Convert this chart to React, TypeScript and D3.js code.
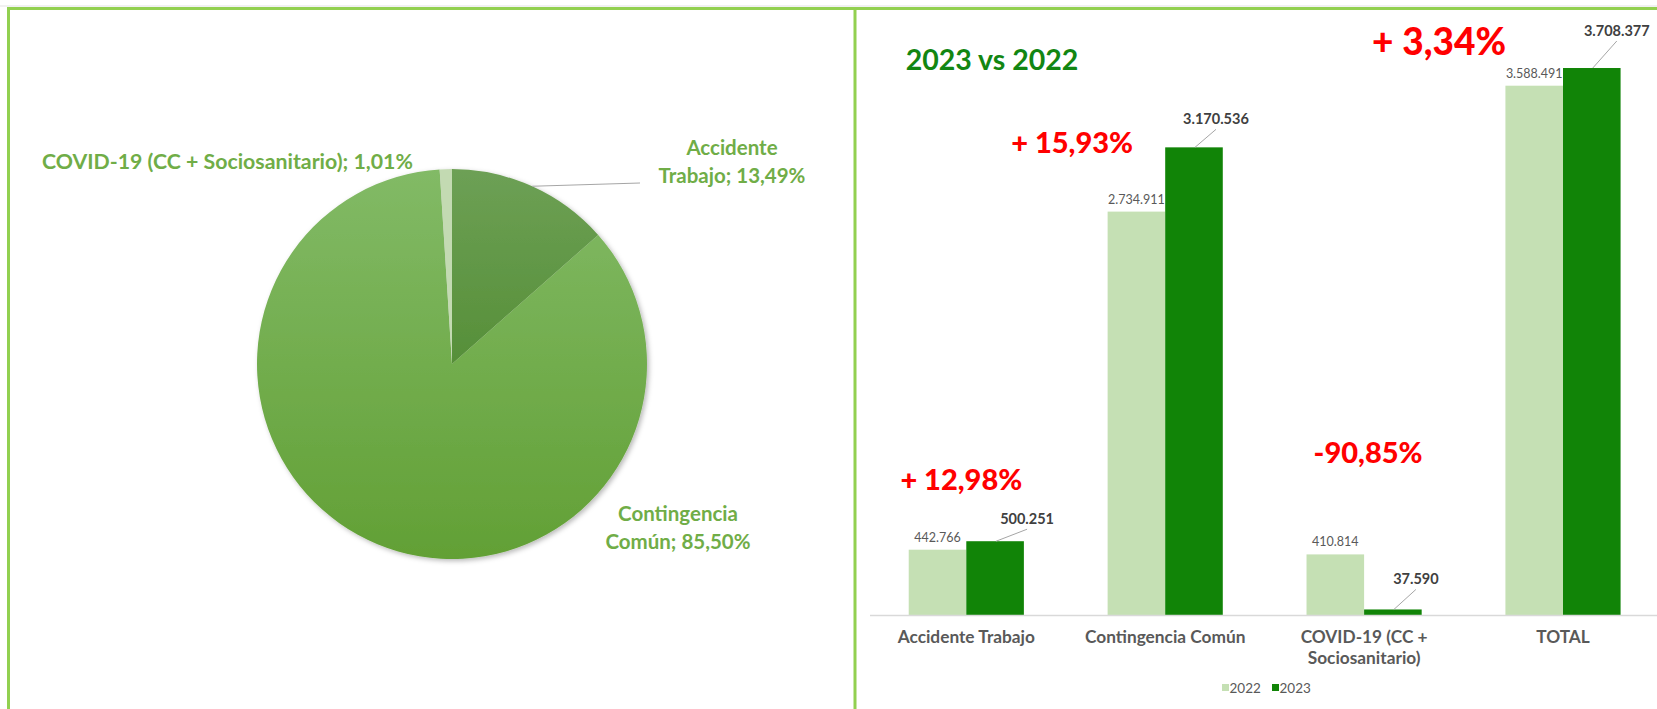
import React from "react";
import * as d3 from "d3";

// pie data
const pieCategories = ["Accidente Trabajo", "Contingencia Común", "COVID-19 (CC + Sociosanitario)"];
const pieShares = [13.49, 85.5, 1.01];

// bar data
const categories = ["Accidente Trabajo", "Contingencia Común", "COVID-19 (CC + Sociosanitario)", "TOTAL"];
const categoryLines = [["Accidente Trabajo"], ["Contingencia Común"], ["COVID-19 (CC +", "Sociosanitario)"], ["TOTAL"]];
const seriesNames = ["2022", "2023"];
const values2022 = [442766, 2734911, 410814, 3588491];
const values2023 = [500251, 3170536, 37590, 3708377];
const changeLabels = ["+ 12,98%", "+ 15,93%", "-90,85%", "+ 3,34%"];
const yMax = 4000000;

const W = 1657;
const H = 709;
const FONT = "Lato, 'Open Sans', sans-serif";
const BORDER = "#92D050";
const LABEL_GREEN = "#70AD47";
const C2022 = "#C5E0B4";
const C2023 = "#118407";

const es = d3.formatLocale({ decimal: ",", thousands: ".", grouping: [3], currency: ["", " €"] });
const fmtNum = es.format(",d");
const fmtPct = es.format(".2f");

// layout of the pie labels (text anchor point + baselines)
const pieLabelLayout = [
  { x: 732, anchor: "middle", lines: ["Accidente", "Trabajo; "], y: [154.5, 182.5], size: 20.5 },
  { x: 678, anchor: "middle", lines: ["Contingencia", "Común; "], y: [521, 548.5], size: 20.5 },
  { x: 42, anchor: "start", lines: ["COVID-19 (CC + Sociosanitario); "], y: [169], size: 21.3 },
];

// offsets of 2023 labels from the top-centre of their bar
const label23Offset = [
  { dx: 32, dy: -22 },
  { dx: 22, dy: -28 },
  { dx: 23, dy: -30 },
  { dx: 25, dy: -37 },
];
// red change annotations: dx from category centre, baseline y, size
const changeLayout = [
  { dx: -5, y: 490, size: 29 },
  { dx: -93, y: 153, size: 29 },
  { dx: 4, y: 463, size: 29 },
  { dx: -124, y: 55, size: 37 },
];

const PieChart = () => {
  const cx = 452;
  const cy = 364;
  const r = 195;
  const pie = d3.pie<number>().sort(null).value((d) => d)(pieShares);
  const arc = d3.arc<d3.PieArcDatum<number>>().innerRadius(0).outerRadius(r);
  const fills = ["url(#gAcc)", "url(#gCont)", "#C3DAB2"];

  const acc = pie[0];
  const mid = (acc.startAngle + acc.endAngle) / 2;
  const rim = [cx + r * Math.sin(mid), cy - r * Math.cos(mid)];

  return (
    <g>
      <defs>
        <linearGradient id="gAcc" gradientUnits="userSpaceOnUse" x1="0" y1={-r} x2="0" y2={r}>
          <stop offset="0" stopColor="#6DA055" />
          <stop offset="1" stopColor="#3F7E1C" />
        </linearGradient>
        <linearGradient id="gCont" gradientUnits="userSpaceOnUse" x1="0" y1={-r} x2="0" y2={r}>
          <stop offset="0" stopColor="#82BA66" />
          <stop offset="1" stopColor="#62A035" />
        </linearGradient>
        <filter id="pieShadow" x="-20%" y="-20%" width="140%" height="140%">
          <feDropShadow dx="2" dy="2" stdDeviation="2.5" floodColor="#000" floodOpacity="0.28" />
        </filter>
      </defs>
      <g transform={`translate(${cx},${cy})`} filter="url(#pieShadow)">
        {pie.map((d, i) => (
          <path key={i} d={arc(d) || ""} fill={fills[i]} />
        ))}
      </g>
      <line x1={rim[0]} y1={rim[1]} x2={640} y2={183} stroke="#A6A6A6" strokeWidth={1.2} />
      {pieLabelLayout.map((l, i) => (
        <text key={i} fontFamily={FONT} fontWeight="bold" fontSize={l.size} fill={LABEL_GREEN} textAnchor={l.anchor}>
          {l.lines.map((t, j) => (
            <tspan key={j} x={l.x} y={l.y[j]}>
              {j === l.lines.length - 1 ? `${t}${fmtPct(pieShares[i])}%` : t}
            </tspan>
          ))}
        </text>
      ))}
    </g>
  );
};

const BarChart = () => {
  const baseY = 615;
  const x0 = d3
    .scaleBand<string>()
    .domain(categories)
    .range([866.85, 1662.45])
    .paddingInner(0.421)
    .paddingOuter(0.2105);
  const x1 = d3.scaleBand<string>().domain(seriesNames).range([0, x0.bandwidth()]);
  const y = d3.scaleLinear().domain([0, yMax]).range([baseY, 25]);
  const centre = (c: string) => (x0(c) as number) + x0.bandwidth() / 2;

  return (
    <g>
      <text x={992} y={69.5} textAnchor="middle" fontFamily={FONT} fontWeight="bold" fontSize={28.5} fill="#128612">
        2023 vs 2022
      </text>

      {categories.map((c, i) => {
        const bx22 = (x0(c) as number) + (x1("2022") as number);
        const bx23 = (x0(c) as number) + (x1("2023") as number);
        const bw = x1.bandwidth();
        const top22 = y(values2022[i]);
        const top23 = y(values2023[i]);
        const off = label23Offset[i];
        const lx = bx23 + bw / 2 + off.dx;
        const ly = top23 + off.dy;
        return (
          <g key={c}>
            <rect x={bx22} y={top22} width={bw} height={baseY - top22} fill={C2022} />
            <rect x={bx23} y={top23} width={bw} height={baseY - top23} fill={C2023} />
            <text x={bx22 + bw / 2} y={top22 - 8} textAnchor="middle" fontFamily={FONT} fontSize={12.5} fill="#595959">
              {fmtNum(values2022[i])}
            </text>
            <line x1={bx23 + bw / 2 + 1} y1={top23} x2={lx} y2={ly + 10} stroke="#A6A6A6" strokeWidth={1} />
            <text x={lx} y={ly + 5} textAnchor="middle" fontFamily={FONT} fontWeight="bold" fontSize={14.5} fill="#404040">
              {fmtNum(values2023[i])}
            </text>
            <text
              x={centre(c) + changeLayout[i].dx}
              y={changeLayout[i].y}
              textAnchor="middle"
              fontFamily={FONT}
              fontWeight="900"
              fontSize={changeLayout[i].size}
              fill="#FF0000"
            >
              {changeLabels[i]}
            </text>
            <text textAnchor="middle" fontFamily={FONT} fontWeight="bold" fontSize={17.3} fill="#595959">
              {categoryLines[i].map((t, j) => (
                <tspan key={j} x={centre(c)} y={643 + j * 20.5}>
                  {t}
                </tspan>
              ))}
            </text>
          </g>
        );
      })}

      {/* eje X */}
      <line x1={870} x2={W} y1={baseY + 0.5} y2={baseY + 0.5} stroke="#D9D9D9" strokeWidth={1.5} />

      {/* leyenda */}
      {seriesNames.map((s, i) => (
        <g key={s} transform={`translate(${1222 + i * 50},0)`}>
          <rect x={0} y={684} width={7} height={7} fill={i === 0 ? C2022 : C2023} />
          <text x={7.5} y={692.5} fontFamily={FONT} fontSize={13.5} fill="#595959">
            {s}
          </text>
        </g>
      ))}
    </g>
  );
};

export default function App() {
  return (
    <svg
      width={W}
      height={H}
      viewBox={`0 0 ${W} ${H}`}
      style={{ position: "absolute", left: 0, top: 0, background: "#fff" }}
    >
      <rect width={W} height={H} fill="#fff" />
      <line x1={0} x2={W} y1={6} y2={6} stroke="#E3E3E3" strokeWidth={1} />
      <line x1={7} x2={W} y1={8.5} y2={8.5} stroke={BORDER} strokeWidth={3} />
      <line x1={8.5} x2={8.5} y1={7} y2={H} stroke={BORDER} strokeWidth={3} />
      <line x1={855} x2={855} y1={7} y2={H} stroke={BORDER} strokeWidth={3} />
      <PieChart />
      <BarChart />
    </svg>
  );
}
